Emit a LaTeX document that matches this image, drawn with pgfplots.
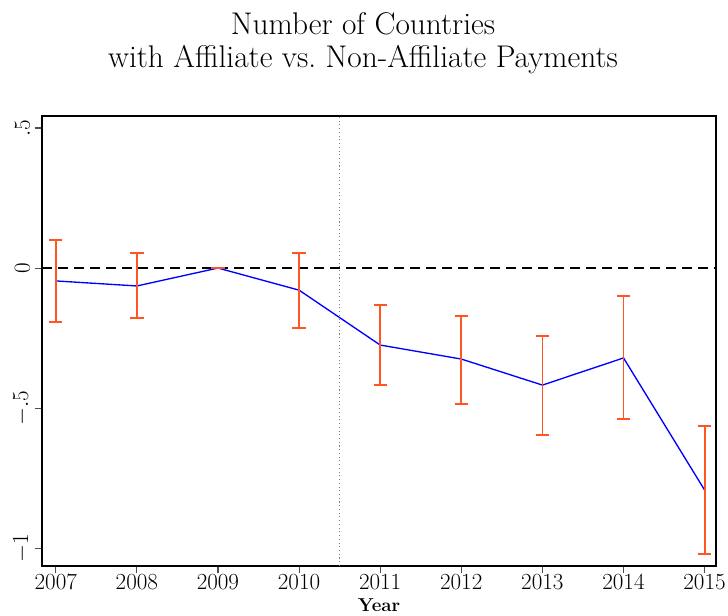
\documentclass[border=0pt]{standalone}
\usepackage{pgfplots}
\usepackage{pgfplotstable}
\pgfplotsset{compat=1.18}
\definecolor{errorange}{RGB}{255,85,34}
\pgfplotstableread{
x y ep em
2007 -0.046 0.146 0.147
2008 -0.064 0.118 0.115
2009 0.000 0.000 0.000
2010 -0.079 0.133 0.135
2011 -0.275 0.143 0.143
2012 -0.325 0.154 0.161
2013 -0.418 0.175 0.178
2014 -0.321 0.221 0.218
2015 -0.793 0.229 0.228
}\datatable
\begin{document}
\begin{tikzpicture}
\begin{axis}[
  name=ax,
  scale only axis,
  width=505.5pt, height=337.5pt,
  xmin=2006.83, xmax=2015.14,
  ymin=-1.064, ymax=0.543,
  axis lines=box,
  xtick pos=bottom, ytick pos=left,
  axis line style={line width=1pt},
  xtick={2007,...,2015},
  xticklabel style={font=\fontsize{16.5}{19}\selectfont, inner sep=1pt, /pgf/number format/1000 sep={}},
  ytick={-1,-0.5,0,0.5},
  yticklabels={$-1$,$-.5$,$0$,$.5$},
  yticklabel style={rotate=90, anchor=south, font=\fontsize{17}{20}\selectfont},
  tick style={black!70, line width=0.8pt},
  tick align=outside,
  major tick length=5.5pt,
  xlabel={\bfseries Year},
  xlabel style={at={(axis description cs:0.5,0)}, anchor=base, yshift=-34.5pt, inner sep=1pt, font=\fontsize{14}{16}\selectfont},
  clip=false,
]
\addplot[black, line width=1pt, dash pattern=on 7.5pt off 4.5pt] coordinates {(2006.83,0) (2015.14,0)};
\addplot[gray, dotted, line width=0.8pt] coordinates {(2010.5,-1.064) (2010.5,0.543)};
\addplot[blue, line width=1pt] table[x=x, y=y] {\datatable};
\addplot[draw=none, mark=none,
  error bars/.cd, y dir=both, y explicit,
  error bar style={errorange, line width=1.3pt},
  error mark options={errorange, line width=1.3pt, mark size=5pt, rotate=90}]
  table[x=x, y=y, y error plus=ep, y error minus=em] {\datatable};
\end{axis}
\node[anchor=base, font=\fontsize{23.5}{26}\selectfont] at ([xshift=-12pt, yshift=60.75pt]ax.north) {Number of Countries};
\node[anchor=base, font=\fontsize{23.5}{26}\selectfont] at ([xshift=-12pt, yshift=36pt]ax.north) {with Affiliate vs.\ Non-Affiliate Payments};
\pgfresetboundingbox
\path[use as bounding box] ([shift={(-31.5pt,-37.5pt)}]ax.south west) rectangle ([shift={(9pt,87pt)}]ax.north east);
\end{tikzpicture}
\end{document}
